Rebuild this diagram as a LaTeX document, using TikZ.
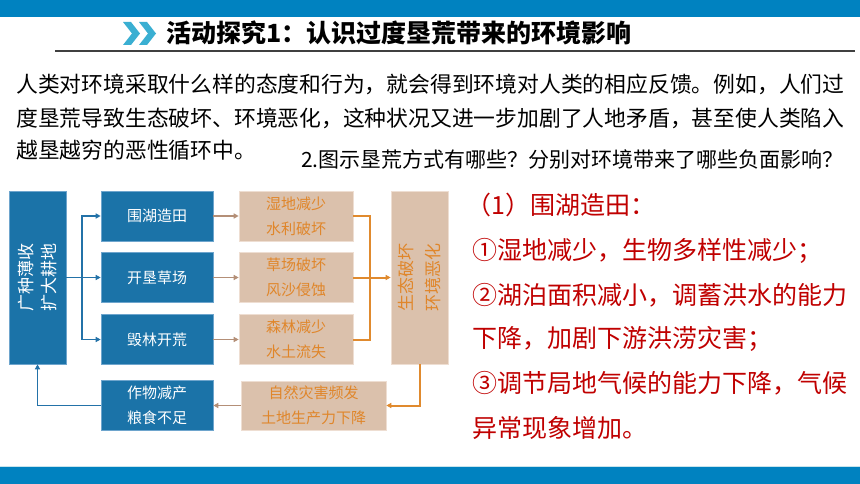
\documentclass[tikz,border=0pt]{standalone}
\usepackage{fontspec}
\setmainfont{Noto Sans CJK SC}
\usetikzlibrary{arrows.meta}
\definecolor{topblue}{RGB}{0,130,192}
\definecolor{chev}{RGB}{58,175,210}
\definecolor{boxblue}{RGB}{27,115,168}
\definecolor{boxblueedge}{RGB}{110,165,205}
\definecolor{boxtan}{RGB}{219,193,172}
\definecolor{boxtanedge}{RGB}{238,222,210}
\definecolor{tantext}{RGB}{224,134,42}
\definecolor{bline}{RGB}{35,114,168}
\definecolor{brline}{RGB}{180,143,119}
\definecolor{orline}{RGB}{224,138,46}
\definecolor{redtxt}{RGB}{192,0,0}
\definecolor{ruleg}{RGB}{64,64,64}
\definecolor{paleline}{RGB}{200,228,236}
\begin{document}
\begin{tikzpicture}[x=1pt,y=-1pt,
  bbox/.style={rectangle,fill=boxblue,draw=boxblueedge,line width=0.6pt,text=white,
    font=\fontsize{15}{25}\selectfont,align=center,inner sep=0pt},
  tbox/.style={rectangle,fill=boxtan,draw=boxtanedge,line width=0.6pt,text=tantext,
    font=\fontsize{15}{25}\selectfont,align=center,inner sep=0pt},
  vtext/.style={rotate=90,align=center,inner sep=0pt},
  barr/.style={draw=bline,line width=1.6pt,-{Triangle[length=5pt,width=5pt]}},
  bln/.style={draw=bline,line width=1.6pt},
  brarr/.style={draw=brline,line width=1.4pt,-{Triangle[length=5pt,width=5pt]}},
  orarr/.style={draw=orline,line width=2pt,-{Triangle[length=5pt,width=5pt]}},
  orln/.style={draw=orline,line width=2pt},
  para/.style={anchor=west,inner sep=0pt,text=black},
  redline/.style={anchor=west,inner sep=0pt,text=redtxt,font=\fontsize{25}{25}\selectfont}
]
\useasboundingbox (0,0) rectangle (860,484);
\fill[white] (0,0) rectangle (860,484);
% bars
\fill[topblue] (0,0) rectangle (860,17);
\fill[topblue] (0,467) rectangle (860,484);
\draw[paleline,line width=1pt] (0,466) -- (860,466);
% header
\fill[chev] (123,22) -- (131,22) -- (140,33.5) -- (131,45) -- (123,45) -- (132,33.5) -- cycle;
\fill[chev] (139,22) -- (147,22) -- (156,33.5) -- (147,45) -- (139,45) -- (148,33.5) -- cycle;
\node[anchor=west,inner sep=0pt,font=\bfseries\fontsize{25}{25}\selectfont] (title) at (166,33) {活动探究1：认识过度垦荒带来的环境影响};
\draw[ruleg,line width=2pt] (55,51) -- (855,51);
% paragraph
\node[para,font=\fontsize{21.8}{21.8}\selectfont] (p1) at (16,84) {人类对环境采取什么样的态度和行为，就会得到环境对人类的相应反馈。例如，人们过};
\node[para,font=\fontsize{21.8}{21.8}\selectfont] (p2) at (16,118) {度垦荒导致生态破坏、环境恶化，这种状况又进一步加剧了人地矛盾，甚至使人类陷入};
\node[para,font=\fontsize{21.8}{21.8}\selectfont] (p3) at (16,150) {越垦越穷的恶性循环中。};
\node[para,font=\fontsize{21}{21}\selectfont] (q) at (301,159) {2.图示垦荒方式有哪些？分别对环境带来了哪些负面影响？};
% diagram
\node[bbox,minimum width=57pt,minimum height=173pt] (L) at (37.5,277.5) {};
\node[vtext,text=white,font=\fontsize{17}{23}\selectfont] (Lt) at (L.center) {广种薄收\\扩大耕地};
\node[bbox,minimum width=112pt,minimum height=50pt] (B1) at (157,216) {围湖造田};
\node[bbox,minimum width=112pt,minimum height=50pt] (B2) at (157,277.5) {开垦草场};
\node[bbox,minimum width=112pt,minimum height=50pt] (B3) at (157,339.5) {毁林开荒};
\node[bbox,minimum width=112pt,minimum height=50pt] (B4) at (157,405.5) {作物减产\\粮食不足};
\node[tbox,minimum width=114pt,minimum height=50pt] (T1) at (296,216) {湿地减少\\水利破坏};
\node[tbox,minimum width=114pt,minimum height=50pt] (T2) at (296,277.5) {草场破坏\\风沙侵蚀};
\node[tbox,minimum width=114pt,minimum height=50pt] (T3) at (296,339.5) {森林减少\\水土流失};
\node[tbox,minimum width=57pt,minimum height=173pt] (E) at (419.5,277.5) {};
\node[vtext,text=tantext,font=\fontsize{17}{27}\selectfont] (Et) at (E.center) {生态破坏\\环境恶化};
\node[tbox,minimum width=145pt,minimum height=49pt] (N) at (313.5,405.5) {自然灾害频发\\土地生产力下降};
% connectors
\coordinate (jb) at (82,277.5);
\draw[bln] (L.east) -- (jb);
\draw[barr] (jb) |- (B1.west);
\draw[barr] (jb) -- (B2.west);
\draw[barr] (jb) |- (B3.west);
\draw[brarr] (B1.east) -- (T1.west);
\draw[brarr] (B2.east) -- (T2.west);
\draw[brarr] (B3.east) -- (T3.west);
\coordinate (jo) at (370,277.5);
\draw[orln] (T1.east) -| (jo) |- (T3.east);
\draw[orarr] (T2.east) -- (E.west);
\draw[orarr] (E.south) |- (N.east);
\draw[brarr] (N.west) -- (B4.east);
\draw[barr] (B4.west) -| (L.south);
% red answer text
\node[redline] (r0) at (466,205) {（1）围湖造田：};
\node[redline] (r1) at (472,251) {①湿地减少，生物多样性减少；};
\node[redline] (r2) at (472,295) {②湖泊面积减小，调蓄洪水的能力};
\node[redline] (r3) at (472,339) {下降，加剧下游洪涝灾害；};
\node[redline] (r4) at (472,383) {③调节局地气候的能力下降，气候};
\node[redline] (r5) at (472,428) {异常现象增加。};
\end{tikzpicture}
\end{document}
